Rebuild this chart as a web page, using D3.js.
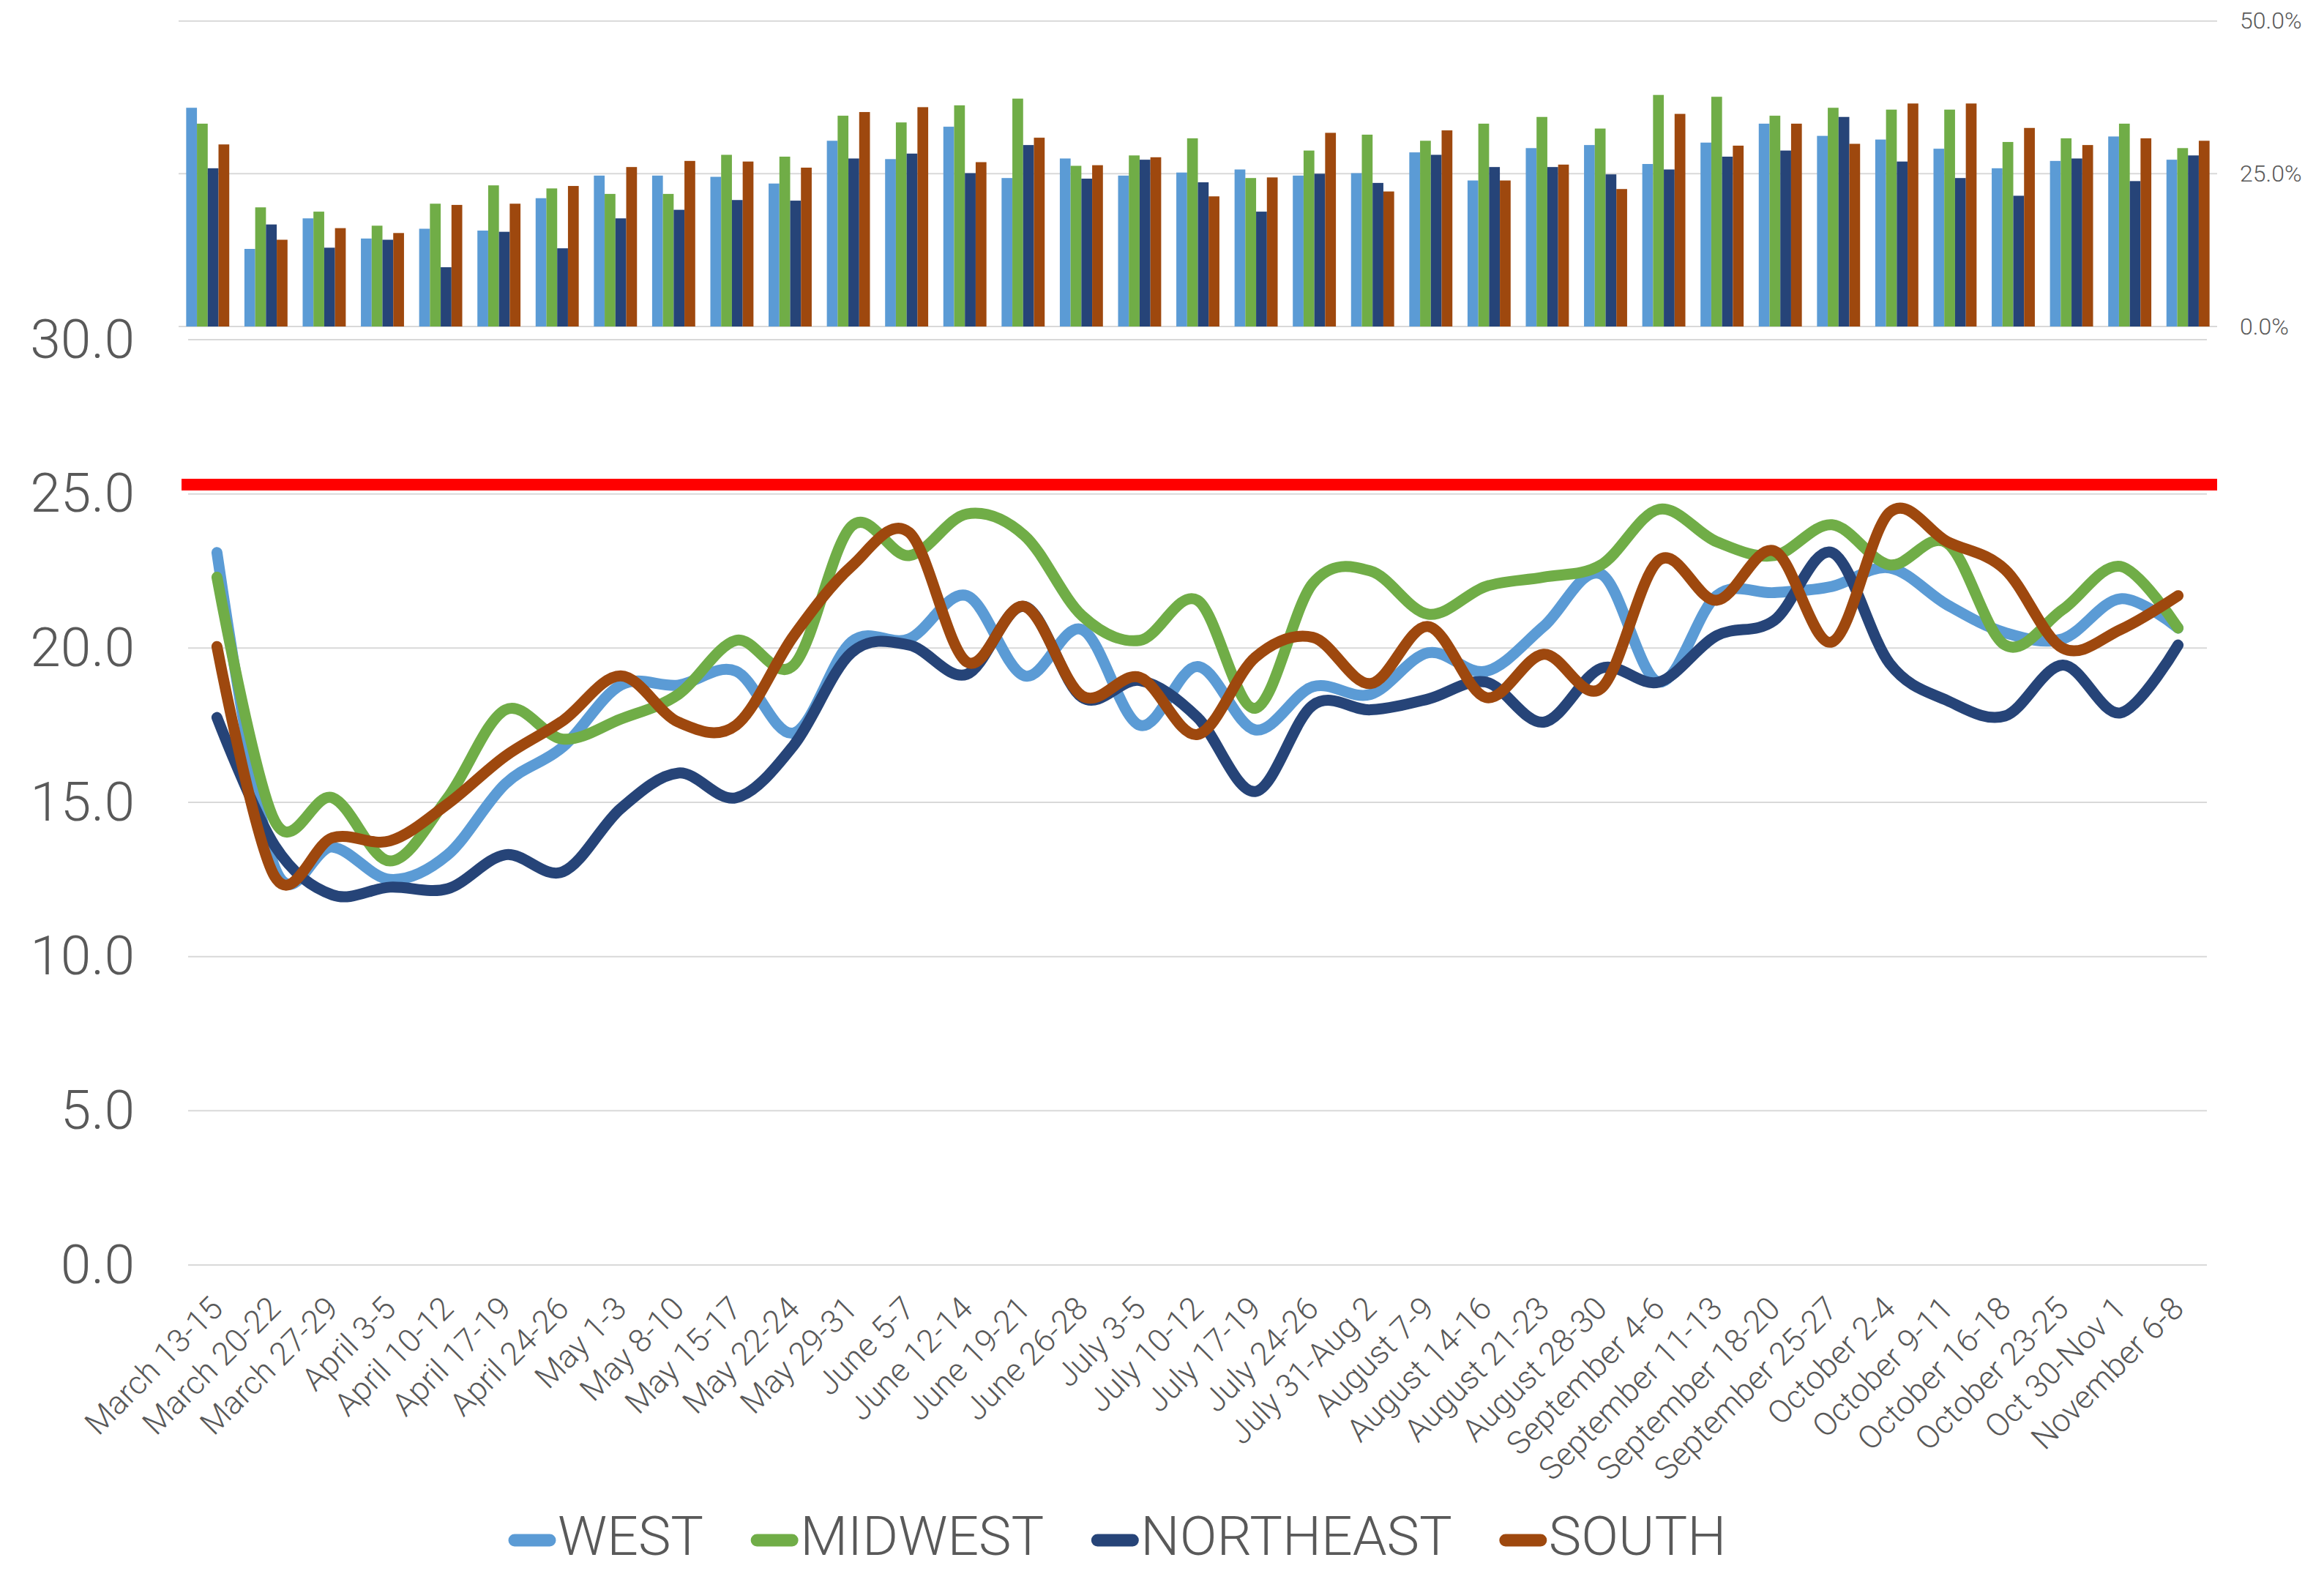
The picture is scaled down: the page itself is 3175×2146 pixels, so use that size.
<!DOCTYPE html>
<html>
<head>
<meta charset="utf-8">
<script src="https://cdn.jsdelivr.net/npm/d3@7"></script>
<style>
  body { margin: 0; background: #fff; }
  svg text { font-family: Roboto, "Open Sans", sans-serif; font-weight: 300; fill: #595959; }
</style>
</head>
<body>
<script>
const width = 3175, height = 2146;

// categories
const weeks = ["March 13-15", "March 20-22", "March 27-29", "April 3-5", "April 10-12", "April 17-19",
  "April 24-26", "May 1-3", "May 8-10", "May 15-17", "May 22-24", "May 29-31", "June 5-7",
  "June 12-14", "June 19-21", "June 26-28", "July 3-5", "July 10-12", "July 17-19", "July 24-26",
  "July 31-Aug 2", "August 7-9", "August 14-16", "August 21-23", "August 28-30", "September 4-6",
  "September 11-13", "September 18-20", "September 25-27", "October 2-4", "October 9-11",
  "October 16-18", "October 23-25", "Oct 30-Nov 1", "November 6-8"];

const regions = ["WEST", "MIDWEST", "NORTHEAST", "SOUTH"];
const colors = ["#5B9BD5", "#70AD47", "#264478", "#9E480E"];

// bar series (%), top panel
const westBar = [35.8, 12.7, 17.7, 14.4, 16.0, 15.7, 21.0, 24.7, 24.7, 24.5, 23.4, 30.4, 27.4, 32.7, 24.3, 27.5, 24.7, 25.2, 25.7, 24.7, 25.1, 28.5, 23.9, 29.2, 29.7, 26.6, 30.1, 33.2, 31.2, 30.6, 29.1, 25.9, 27.1, 31.1, 27.3];
const midwestBar = [33.2, 19.5, 18.8, 16.5, 20.1, 23.1, 22.6, 21.7, 21.7, 28.1, 27.8, 34.5, 33.4, 36.2, 37.3, 26.3, 28.0, 30.8, 24.3, 28.8, 31.4, 30.4, 33.2, 34.3, 32.4, 37.9, 37.6, 34.5, 35.8, 35.5, 35.5, 30.2, 30.8, 33.2, 29.2];
const northeastBar = [25.9, 16.7, 12.9, 14.2, 9.7, 15.5, 12.8, 17.7, 19.1, 20.7, 20.6, 27.5, 28.3, 25.1, 29.7, 24.2, 27.3, 23.6, 18.8, 25.0, 23.5, 28.1, 26.1, 26.1, 24.9, 25.7, 27.8, 28.8, 34.3, 27.0, 24.3, 21.4, 27.5, 23.8, 28.0];
const southBar = [29.8, 14.2, 16.1, 15.3, 19.9, 20.1, 23.0, 26.1, 27.1, 27.0, 26.0, 35.1, 35.9, 26.9, 30.9, 26.4, 27.7, 21.3, 24.4, 31.7, 22.1, 32.1, 23.9, 26.5, 22.5, 34.8, 29.6, 33.2, 29.9, 36.5, 36.5, 32.5, 29.7, 30.8, 30.4];

// line series, bottom panel
const westLine = [23.1, 12.9, 13.55, 12.5, 13.3, 15.6, 16.8, 18.8, 18.8, 19.25, 17.25, 20.2, 20.3, 21.7, 19.1, 20.6, 17.5, 19.4, 17.35, 18.75, 18.5, 19.85, 19.25, 20.7, 22.4, 18.9, 21.7, 21.8, 22.0, 22.6, 21.4, 20.5, 20.3, 21.6, 20.65];
const midwestLine = [22.3, 14.4, 15.15, 13.1, 15.15, 18.0, 17.05, 17.7, 18.5, 20.25, 19.45, 23.95, 23.0, 24.35, 23.65, 21.05, 20.25, 21.55, 18.05, 22.1, 22.5, 21.1, 22.0, 22.3, 22.7, 24.5, 23.45, 23.0, 24.0, 22.7, 23.4, 20.1, 21.25, 22.65, 20.65];
const northeastLine = [17.75, 13.6, 12.0, 12.25, 12.2, 13.3, 12.75, 14.8, 15.95, 15.15, 16.85, 19.85, 20.1, 19.15, 21.35, 18.4, 18.95, 17.75, 15.35, 18.15, 18.0, 18.35, 18.9, 17.6, 19.35, 18.9, 20.4, 20.9, 23.1, 19.5, 18.3, 17.8, 19.45, 17.9, 20.1];
const southLine = [20.05, 12.6, 13.85, 13.75, 14.95, 16.5, 17.65, 19.1, 17.6, 17.5, 20.4, 22.65, 23.75, 19.55, 21.35, 18.45, 19.05, 17.2, 19.7, 20.35, 18.85, 20.7, 18.4, 19.8, 18.7, 22.85, 21.55, 23.15, 20.2, 24.4, 23.45, 22.55, 20.0, 20.6, 21.7];

const threshold = 25.3;
const barTicks = [0, 25, 50];
const lineTicks = [0, 5, 10, 15, 20, 25, 30];

const barSeries = [westBar, midwestBar, northeastBar, southBar];
const lineSeries = [westLine, midwestLine, northeastLine, southLine];

const svg = d3.select("body").append("svg")
  .attr("width", width).attr("height", height)
  .style("background", "#fff");

// ---- scales
const xBar = d3.scaleBand(weeks, [244, 3029]).paddingInner(0.26).paddingOuter(0.13);
const xSub = d3.scaleBand(regions, [0, xBar.bandwidth()]);
const yBar = d3.scaleLinear([0, 50], [446, 28.7]);

const xLine = d3.scalePoint(weeks, [257, 3015]).padding(0.5);
const yLine = d3.scaleLinear([0, 30], [1728, 464]);

// ---- bar panel gridlines + right axis
svg.append("g").selectAll("line").data(barTicks).join("line")
  .attr("x1", xBar.range()[0]).attr("x2", xBar.range()[1])
  .attr("y1", d => yBar(d)).attr("y2", d => yBar(d))
  .attr("stroke", "#D9D9D9").attr("stroke-width", 2);

const rightAxis = svg.append("g")
  .attr("transform", `translate(${xBar.range()[1] + 14},0)`)
  .call(d3.axisRight(yBar).tickValues(barTicks).tickSize(0).tickPadding(17)
    .tickFormat(d => d3.format(".1f")(d) + "%"));
rightAxis.select(".domain").remove();
rightAxis.selectAll("text").style("font-size", "32px");

// bars
barSeries.forEach((vals, s) => {
  svg.append("g").selectAll("rect").data(vals).join("rect")
    .attr("x", (d, i) => xBar(weeks[i]) + xSub(regions[s]))
    .attr("y", d => yBar(d))
    .attr("width", xSub.bandwidth())
    .attr("height", d => yBar(0) - yBar(d))
    .attr("fill", colors[s]);
});

// ---- line panel gridlines + left axis
svg.append("g").selectAll("line").data(lineTicks).join("line")
  .attr("x1", xLine.range()[0]).attr("x2", xLine.range()[1])
  .attr("y1", d => yLine(d)).attr("y2", d => yLine(d))
  .attr("stroke", "#D9D9D9").attr("stroke-width", 2);

const leftAxis = svg.append("g")
  .attr("transform", "translate(184,0)")
  .call(d3.axisLeft(yLine).tickValues(lineTicks).tickSize(0).tickPadding(0)
    .tickFormat(d3.format(".1f")));
leftAxis.select(".domain").remove();
leftAxis.selectAll("text").style("font-size", "75px");

// x labels
const bottomAxis = svg.append("g")
  .attr("transform", `translate(0,${yLine(0)})`)
  .call(d3.axisBottom(xLine).tickSize(0));
bottomAxis.select(".domain").remove();
bottomAxis.selectAll("text")
  .attr("x", 10).attr("y", 62).attr("dy", 0)
  .attr("text-anchor", "end")
  .attr("transform", "rotate(-45 10 62)")
  .style("font-size", "44px");

// threshold line
svg.append("line")
  .attr("x1", xBar.range()[0] + 4).attr("x2", xBar.range()[1])
  .attr("y1", yLine(threshold)).attr("y2", yLine(threshold))
  .attr("stroke", "#FF0000").attr("stroke-width", 16);

// smoothed lines
const line = d3.line()
  .x((d, i) => xLine(weeks[i]))
  .y(d => yLine(d))
  .curve(d3.curveCardinal.tension(0));

lineSeries.forEach((vals, s) => {
  svg.append("path")
    .attr("d", line(vals))
    .attr("fill", "none")
    .attr("stroke", colors[s])
    .attr("stroke-width", 15)
    .attr("stroke-linecap", "round")
    .attr("stroke-linejoin", "round");
});

// legend
const legend = svg.append("g").attr("transform", "translate(694,2098)");
let lx = 0;
regions.forEach((r, s) => {
  const g = legend.append("g").attr("transform", `translate(${lx},0)`);
  g.append("line")
    .attr("x1", 9).attr("x2", 57).attr("y1", 6).attr("y2", 6)
    .attr("stroke", colors[s]).attr("stroke-width", 17).attr("stroke-linecap", "round");
  const t = g.append("text")
    .attr("x", 68).attr("y", 0).attr("dy", "0.35em")
    .style("font-size", "75px")
    .text(r);
  lx += 68 + t.node().getComputedTextLength() + 64;
});
</script>
</body>
</html>
